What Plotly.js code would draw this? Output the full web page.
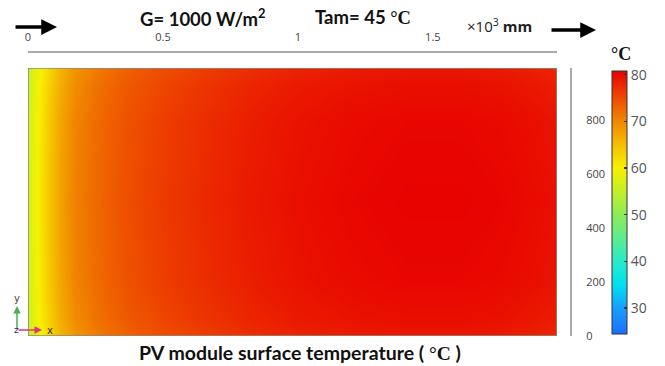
<!DOCTYPE html>
<html>
<head>
<meta charset="utf-8">
<script src="https://cdn.plot.ly/plotly-3.0.1.min.js"></script>
<style>
  html, body { margin: 0; padding: 0; background: #fff; }
  #chart { width: 665px; height: 366px; }
</style>
</head>
<body>
<div id="chart"></div>
<script>
// Module length positions (×10³ mm) and width positions (mm) of the sampled grid
const xPos = [0, 0.015, 0.045, 0.08, 0.12, 0.175, 0.27, 0.38, 0.5, 0.65, 0.82, 1.0, 1.2, 1.4, 1.6, 1.75, 1.87, 1.96];
const yPos = [0, 60, 200, 496, 800, 930, 992];

// Surface temperature (°C), one row per width position
const rowEdge   = [54.6, 57.0, 59.6, 62.8, 65.8, 68.8, 71.4, 73.4, 74.7, 76.0, 77.2, 78.1, 78.7, 79.0, 79.0, 78.8, 78.3, 77.8];
const rowNear   = [55.0, 57.5, 60.2, 63.5, 66.5, 69.5, 72.1, 74.1, 75.4, 76.7, 77.9, 78.8, 79.4, 79.7, 79.7, 79.5, 79.0, 78.5];
const rowInner  = [55.4, 58.0, 60.7, 64.2, 67.2, 70.2, 72.7, 74.7, 76.0, 77.3, 78.5, 79.4, 80.0, 80.3, 80.3, 80.1, 79.7, 79.2];
const rowCenter = [55.6, 58.2, 61.0, 64.5, 67.5, 70.5, 73.0, 75.0, 76.3, 77.6, 78.8, 79.7, 80.3, 80.6, 80.6, 80.4, 80.0, 79.6];
const tempGrid = [rowEdge, rowNear, rowInner, rowCenter, rowInner, rowNear, rowEdge];

// Colour range and rainbow stops (°C → colour)
const tMin = 24.4;
const tMax = 80.8;
const stopTemps  = [24.4, 30, 35, 40, 45, 50, 55, 60, 65, 70, 75, 80.8];
const stopColors = ['rgb(30,110,255)', 'rgb(20,160,255)', 'rgb(0,225,240)', 'rgb(40,235,200)',
                    'rgb(95,235,140)', 'rgb(140,235,90)', 'rgb(195,240,40)', 'rgb(248,240,0)',
                    'rgb(245,190,0)', 'rgb(240,135,0)', 'rgb(238,75,0)', 'rgb(232,0,0)'];
const colorscale = stopTemps.map((t, i) => [(t - tMin) / (tMax - tMin), stopColors[i]]);

// Axis ticks
const xTicks = [0, 0.5, 1, 1.5];
const xTickText = ['0', '0.5', '1', '1.5'];
const yTicks = [0, 200, 400, 600, 800];
const cbTicks = [30, 40, 50, 60, 70, 80];

const xLen = 1.96;   // ×10³ mm
const yLen = 992;    // mm

const tickFont = { family: 'Open Sans, DejaVu Sans, sans-serif', size: 11, color: '#444' };
const boldFont = 'Lato, Open Sans, sans-serif';
const serifFont = 'Liberation Serif, DejaVu Serif, serif';

// page pixel → paper fraction (plot area spans x 28..571, y 52..336)
const px = v => (v - 28) / 543;
const py = v => (336 - v) / 284;

function label(x, y, text, font, xanchor) {
  return { xref: 'paper', yref: 'paper', x: px(x), y: py(y), text: text, font: font,
           showarrow: false, xanchor: xanchor || 'center', yanchor: 'middle' };
}
function arrow(hx, hy, ax, ay, width, color, size) {
  return { xref: 'paper', yref: 'paper', x: px(hx), y: py(hy), axref: 'pixel', ayref: 'pixel',
           ax: ax, ay: ay, text: '', showarrow: true, arrowhead: 2, arrowsize: size,
           arrowwidth: width, arrowcolor: color };
}

const trace = {
  type: 'heatmap',
  x: xPos,
  y: yPos,
  z: tempGrid,
  zmin: tMin,
  zmax: tMax,
  zsmooth: 'best',
  colorscale: colorscale,
  hoverinfo: 'skip',
  colorbar: {
    x: px(612), xanchor: 'left', xpad: 0,
    y: py(334), yanchor: 'bottom', ypad: 0,
    lenmode: 'pixels', len: 263,
    thickness: 15,
    outlinewidth: 1, outlinecolor: '#333',
    tickvals: cbTicks,
    ticks: 'inside', ticklen: 3, tickcolor: '#333', tickwidth: 1.5,
    tickfont: { family: 'Open Sans, DejaVu Sans, sans-serif', size: 14, color: '#555' },
    ticklabelstandoff: 10
  }
};

const layout = {
  width: 665,
  height: 366,
  margin: { l: 28, r: 94, t: 52, b: 30 },
  paper_bgcolor: '#fff',
  plot_bgcolor: '#fff',
  showlegend: false,
  xaxis: {
    domain: [0, 529 / 543],
    range: [0, xLen],
    side: 'top',
    anchor: 'free',
    position: 1,
    showline: true, linecolor: '#aaa', linewidth: 2,
    showgrid: false, zeroline: false,
    ticks: '',
    tickvals: xTicks, ticktext: xTickText,
    tickfont: tickFont,
    ticklabelstandoff: 6,
    fixedrange: true
  },
  yaxis: {
    domain: [0, 268 / 284],
    range: [0, yLen],
    side: 'right',
    anchor: 'free',
    position: 1,
    showline: true, linecolor: '#aaa', linewidth: 2,
    showgrid: false, zeroline: false,
    ticks: '',
    tickvals: yTicks,
    tickfont: tickFont,
    ticklabelstandoff: 12,
    fixedrange: true
  },
  shapes: [
    { type: 'rect', xref: 'x', yref: 'y', x0: 0, x1: xLen, y0: 0, y1: yLen,
      line: { color: '#888', width: 1.5 }, fillcolor: 'rgba(0,0,0,0)' }
  ],
  annotations: [
    label(138, 17, '<b>G= 1000 W/m<sup>2</sup></b>', { family: boldFont, size: 18.5, color: '#111' }, 'left'),
    label(313, 17, '<b>Tam= 45 </b><span style="font-family:' + serifFont + '"><b>°C</b></span>',
          { family: boldFont, size: 18.5, color: '#111' }, 'left'),
    label(465, 26, '×10<sup>3</sup> <b>mm</b>', { family: 'Open Sans, sans-serif', size: 15, color: '#222' }, 'left'),
    arrow(57, 27, -43, 0, 3.5, '#000', 0.9),
    arrow(596, 30, -46, 0, 3.5, '#000', 0.9),
    label(621, 54, '<b>°C</b>', { family: serifFont, size: 18, color: '#111' }),
    label(300, 352, '<b>PV module surface temperature ( </b><span style="font-family:' + serifFont +
          '"><b>°C</b></span><b> )</b>', { family: boldFont, size: 19.5, color: '#111' }),
    // coordinate triad
    arrow(17, 306, 0, 24, 1.5, '#4caf50', 1),
    arrow(42, 330, -25, 0, 1.5, '#e0357a', 1),
    label(17, 298, 'y', { family: 'DejaVu Sans, sans-serif', size: 10, color: '#444' }),
    label(50, 330, 'x', { family: 'DejaVu Sans, sans-serif', size: 10, color: '#333' }),
    label(16, 330, 'z', { family: 'DejaVu Sans, sans-serif', size: 9, color: '#1a2a5a' })
  ]
};

Plotly.newPlot('chart', [trace], layout, { displayModeBar: false, staticPlot: true });
</script>
</body>
</html>
